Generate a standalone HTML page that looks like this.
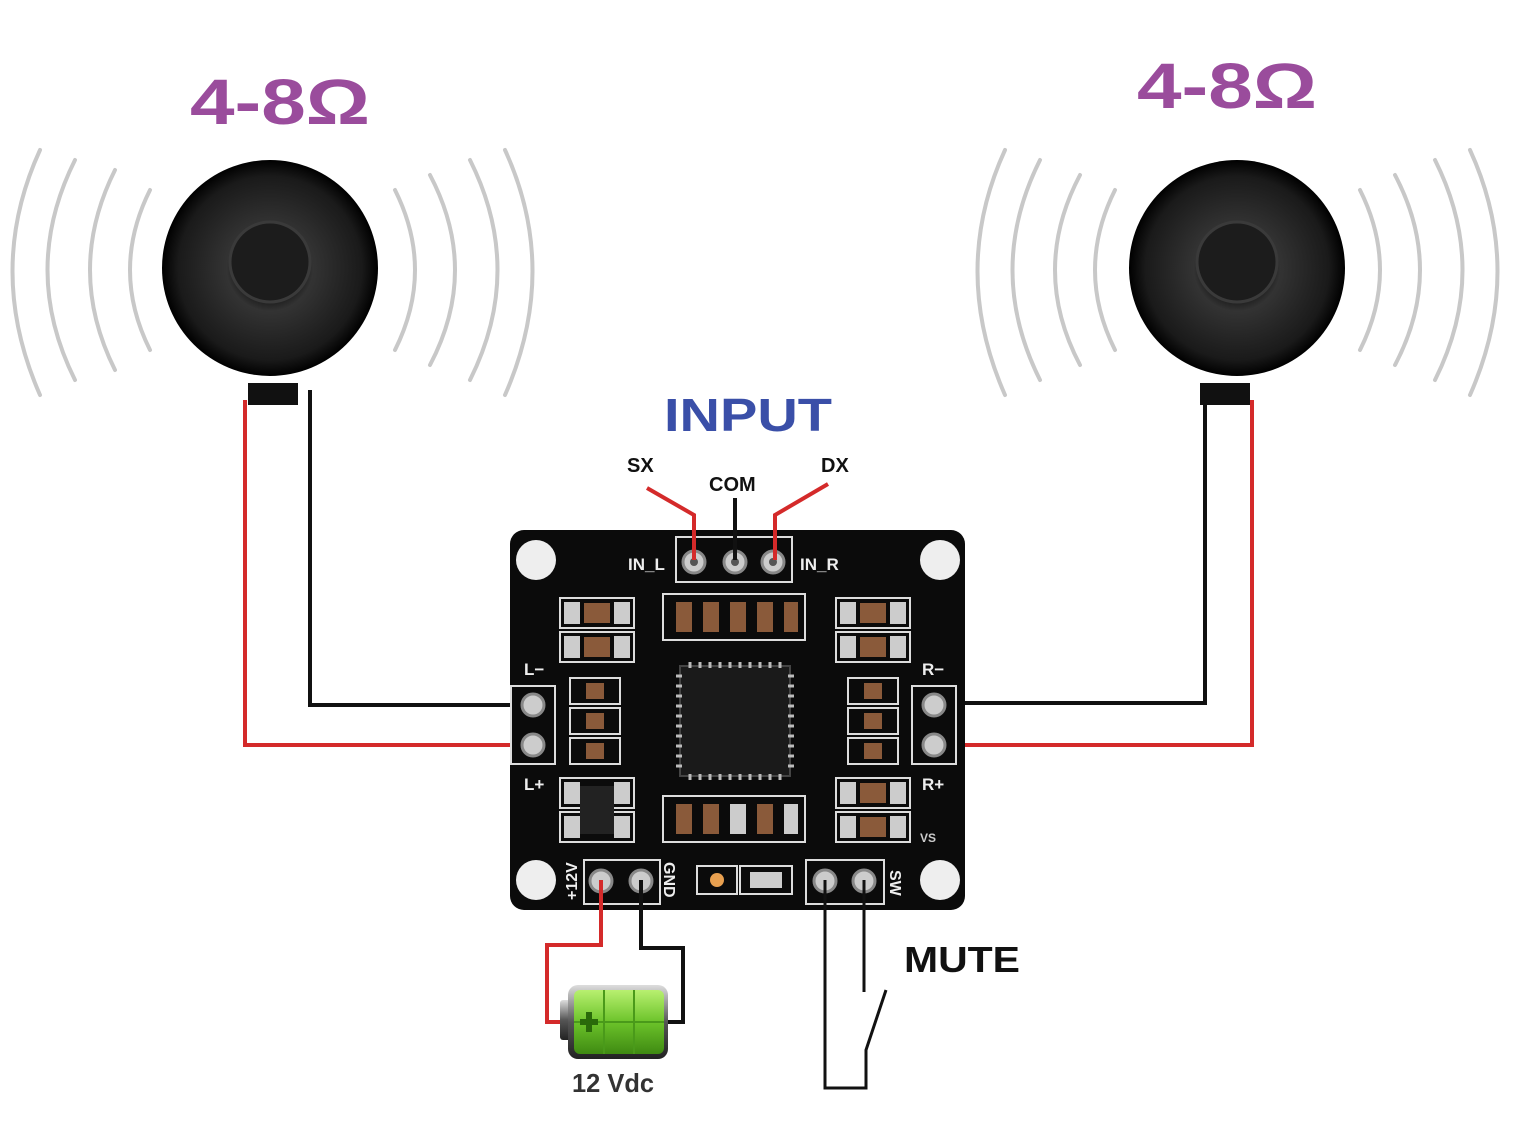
<!DOCTYPE html>
<html><head><meta charset="utf-8"><style>
html,body{margin:0;padding:0;background:#fff;}
svg{display:block;}
text{font-family:"Liberation Sans",sans-serif;font-weight:bold;}
</style></head><body>
<svg width="1523" height="1145" viewBox="0 0 1523 1145" xmlns="http://www.w3.org/2000/svg">
<defs>
<radialGradient id="spk" cx="50%" cy="50%" r="50%">
<stop offset="0" stop-color="#2a2a2a"/><stop offset="0.25" stop-color="#111"/><stop offset="0.4" stop-color="#333"/><stop offset="0.85" stop-color="#1a1a1a"/><stop offset="1" stop-color="#000"/>
</radialGradient>
<linearGradient id="bat" x1="0" y1="0" x2="0" y2="1">
<stop offset="0" stop-color="#b8f070"/><stop offset="0.5" stop-color="#6cc32a"/><stop offset="1" stop-color="#3f8a12"/>
</linearGradient>
<linearGradient id="batc" x1="0" y1="0" x2="0" y2="1">
<stop offset="0" stop-color="#ddd"/><stop offset="0.5" stop-color="#555"/><stop offset="1" stop-color="#222"/>
</linearGradient>
</defs>

<text x="190" y="124" font-size="64" fill="#9a4c9c" textLength="180" lengthAdjust="spacingAndGlyphs">4-8Ω</text>
<text x="1137" y="108" font-size="64" fill="#9a4c9c" textLength="180" lengthAdjust="spacingAndGlyphs">4-8Ω</text>

<g fill="none" stroke="#c8c8c8" stroke-width="4" stroke-linecap="round">
<path d="M150 190 Q110 270 150 350"/><path d="M115 170 Q65 270 115 370"/><path d="M75 160 Q20 270 75 380"/><path d="M40 150 Q-15 270 40 395"/>
<path d="M395 190 Q435 270 395 350"/><path d="M430 175 Q480 270 430 365"/><path d="M470 160 Q525 270 470 380"/><path d="M505 150 Q560 270 505 395"/>
<path d="M1115 190 Q1075 270 1115 350"/><path d="M1080 175 Q1030 270 1080 365"/><path d="M1040 160 Q985 270 1040 380"/><path d="M1005 150 Q950 270 1005 395"/>
<path d="M1360 190 Q1400 270 1360 350"/><path d="M1395 175 Q1445 270 1395 365"/><path d="M1435 160 Q1490 270 1435 380"/><path d="M1470 150 Q1525 270 1470 395"/>
</g>

<circle cx="270" cy="268" r="108" fill="url(#spk)"/>
<circle cx="270" cy="262" r="40" fill="#1c1c1c" stroke="#3a3a3a" stroke-width="3"/>
<rect x="248" y="383" width="50" height="22" fill="#111"/>
<circle cx="1237" cy="268" r="108" fill="url(#spk)"/>
<circle cx="1237" cy="262" r="40" fill="#1c1c1c" stroke="#3a3a3a" stroke-width="3"/>
<rect x="1200" y="383" width="50" height="22" fill="#111"/>

<g fill="none" stroke-width="4">
<path d="M245 400 V745 H530" stroke="#d42a2a"/>
<path d="M310 390 V705 H530" stroke="#111"/>
<path d="M1205 395 V703 H935" stroke="#111"/>
<path d="M1252 400 V745 H935" stroke="#d42a2a"/>
</g>

<text x="664" y="431" font-size="46" fill="#3a4fa8" textLength="168" lengthAdjust="spacingAndGlyphs">INPUT</text>
<text x="627" y="472" font-size="20" fill="#111">SX</text>
<text x="709" y="491" font-size="20" fill="#111">COM</text>
<text x="821" y="472" font-size="20" fill="#111">DX</text>

<rect x="510" y="530" width="455" height="380" rx="14" fill="#0b0b0b"/>
<g fill="#eee"><circle cx="536" cy="560" r="20"/><circle cx="940" cy="560" r="20"/><circle cx="536" cy="880" r="20"/><circle cx="940" cy="880" r="20"/></g>

<rect x="676" y="537" width="116" height="45" fill="none" stroke="#ddd" stroke-width="2"/>
<g fill="#ccc" stroke="#888" stroke-width="3"><circle cx="694" cy="562" r="11"/><circle cx="735" cy="562" r="11"/><circle cx="773" cy="562" r="11"/></g>
<g fill="#555"><circle cx="694" cy="562" r="4"/><circle cx="735" cy="562" r="4"/><circle cx="773" cy="562" r="4"/></g>
<g fill="none" stroke-width="4">
<path d="M647 488 L694 515 V560" stroke="#d42a2a"/>
<path d="M735 498 V560" stroke="#111"/>
<path d="M828 484 L775 515 V560" stroke="#d42a2a"/>
</g>
<g font-size="17" fill="#eee">
<text x="628" y="570" font-weight="normal">IN_L</text>
<text x="800" y="570" font-weight="normal">IN_R</text>
<text x="524" y="675" font-weight="normal">L−</text>
<text x="524" y="790" font-weight="normal">L+</text>
<text x="922" y="675" font-weight="normal">R−</text>
<text x="922" y="790" font-weight="normal">R+</text>
</g>

<rect x="511" y="686" width="44" height="78" fill="none" stroke="#ddd" stroke-width="2"/>
<rect x="912" y="686" width="44" height="78" fill="none" stroke="#ddd" stroke-width="2"/>
<g fill="#ccc" stroke="#888" stroke-width="3">
<circle cx="533" cy="705" r="11"/><circle cx="533" cy="745" r="11"/>
<circle cx="934" cy="705" r="11"/><circle cx="934" cy="745" r="11"/>
<circle cx="601" cy="881" r="11"/><circle cx="641" cy="881" r="11"/>
<circle cx="825" cy="881" r="11"/><circle cx="864" cy="881" r="11"/>
</g>
<rect x="584" y="860" width="76" height="44" fill="none" stroke="#ddd" stroke-width="2"/>
<rect x="806" y="860" width="78" height="44" fill="none" stroke="#ddd" stroke-width="2"/>

<g fill="none" stroke="#ddd" stroke-width="2">
<rect x="560" y="598" width="74" height="30"/><rect x="560" y="632" width="74" height="30"/>
<rect x="836" y="598" width="74" height="30"/><rect x="836" y="632" width="74" height="30"/>
<rect x="560" y="778" width="74" height="30"/><rect x="560" y="812" width="74" height="30"/>
<rect x="836" y="778" width="74" height="30"/><rect x="836" y="812" width="74" height="30"/>
<rect x="663" y="594" width="142" height="46"/><rect x="663" y="796" width="142" height="46"/>
<rect x="570" y="678" width="50" height="26"/><rect x="570" y="708" width="50" height="26"/><rect x="570" y="738" width="50" height="26"/>
<rect x="848" y="678" width="50" height="26"/><rect x="848" y="708" width="50" height="26"/><rect x="848" y="738" width="50" height="26"/>
<rect x="697" y="866" width="40" height="28"/><rect x="740" y="866" width="52" height="28"/>
</g>
<g fill="#8a5a3a">
<rect x="584" y="603" width="26" height="20"/><rect x="584" y="637" width="26" height="20"/>
<rect x="860" y="603" width="26" height="20"/><rect x="860" y="637" width="26" height="20"/>
<rect x="860" y="783" width="26" height="20"/><rect x="860" y="817" width="26" height="20"/>
<rect x="676" y="602" width="16" height="30"/><rect x="703" y="602" width="16" height="30"/><rect x="730" y="602" width="16" height="30"/><rect x="757" y="602" width="16" height="30"/><rect x="784" y="602" width="14" height="30"/>
<rect x="676" y="804" width="16" height="30"/><rect x="703" y="804" width="16" height="30"/><rect x="757" y="804" width="16" height="30"/>
<rect x="586" y="683" width="18" height="16"/><rect x="586" y="713" width="18" height="16"/><rect x="586" y="743" width="18" height="16"/>
<rect x="864" y="683" width="18" height="16"/><rect x="864" y="713" width="18" height="16"/><rect x="864" y="743" width="18" height="16"/>
</g>
<g fill="#ccc">
<rect x="564" y="602" width="16" height="22"/><rect x="614" y="602" width="16" height="22"/>
<rect x="564" y="636" width="16" height="22"/><rect x="614" y="636" width="16" height="22"/>
<rect x="840" y="602" width="16" height="22"/><rect x="890" y="602" width="16" height="22"/>
<rect x="840" y="636" width="16" height="22"/><rect x="890" y="636" width="16" height="22"/>
<rect x="840" y="782" width="16" height="22"/><rect x="890" y="782" width="16" height="22"/>
<rect x="840" y="816" width="16" height="22"/><rect x="890" y="816" width="16" height="22"/>
<rect x="564" y="782" width="16" height="22"/><rect x="614" y="782" width="16" height="22"/>
<rect x="564" y="816" width="16" height="22"/><rect x="614" y="816" width="16" height="22"/>
<rect x="730" y="804" width="16" height="30"/><rect x="784" y="804" width="14" height="30"/>
<rect x="750" y="872" width="32" height="16"/>
</g>
<rect x="580" y="786" width="34" height="48" fill="#222"/>
<circle cx="717" cy="880" r="7" fill="#e8a050"/>

<rect x="680" y="666" width="110" height="110" fill="#1a1a1a" stroke="#444" stroke-width="2"/>
<g stroke="#bbb" stroke-width="3">
<path d="M690 662 V668 M700 662 V668 M710 662 V668 M720 662 V668 M730 662 V668 M740 662 V668 M750 662 V668 M760 662 V668 M770 662 V668 M780 662 V668"/>
<path d="M690 774 V780 M700 774 V780 M710 774 V780 M720 774 V780 M730 774 V780 M740 774 V780 M750 774 V780 M760 774 V780 M770 774 V780 M780 774 V780"/>
<path d="M676 676 H682 M676 686 H682 M676 696 H682 M676 706 H682 M676 716 H682 M676 726 H682 M676 736 H682 M676 746 H682 M676 756 H682 M676 766 H682"/>
<path d="M788 676 H794 M788 686 H794 M788 696 H794 M788 706 H794 M788 716 H794 M788 726 H794 M788 736 H794 M788 746 H794 M788 756 H794 M788 766 H794"/>
</g>

<text font-size="16" fill="#eee" font-weight="normal" transform="translate(577,900) rotate(-90)">+12V</text>
<text font-size="16" fill="#eee" font-weight="normal" transform="translate(664,862) rotate(90)">GND</text>
<text font-size="16" fill="#eee" font-weight="normal" transform="translate(890,870) rotate(90)">SW</text>
<text x="920" y="842" font-size="12" fill="#ccc" font-weight="normal">VS</text>

<g fill="none" stroke-width="4">
<path d="M601 880 V945 H547 V1022 H565" stroke="#d42a2a"/>
<path d="M641 880 V948 H683 V1022 H668" stroke="#111"/>
</g>
<rect x="560" y="1000" width="12" height="40" rx="3" fill="url(#batc)"/>
<rect x="568" y="985" width="100" height="74" rx="10" fill="url(#batc)"/>
<rect x="574" y="990" width="90" height="64" rx="6" fill="url(#bat)"/>
<g stroke="#4a9a1a" stroke-width="2"><path d="M604 990 V1054 M634 990 V1054 M574 1022 H664"/></g>
<path d="M580 1022 H598 M589 1012 V1032" stroke="#2a6a0a" stroke-width="6"/>
<text x="572" y="1092" font-size="26" fill="#333" font-weight="normal" textLength="82" lengthAdjust="spacingAndGlyphs">12 Vdc</text>

<g fill="none" stroke="#111" stroke-width="3">
<path d="M825 880 V1088 H866 V1050 L886 990"/>
<path d="M864 880 V992"/>
</g>
<text x="904" y="972" font-size="36" fill="#111" textLength="116" lengthAdjust="spacingAndGlyphs">MUTE</text>
</svg>
</body></html>
